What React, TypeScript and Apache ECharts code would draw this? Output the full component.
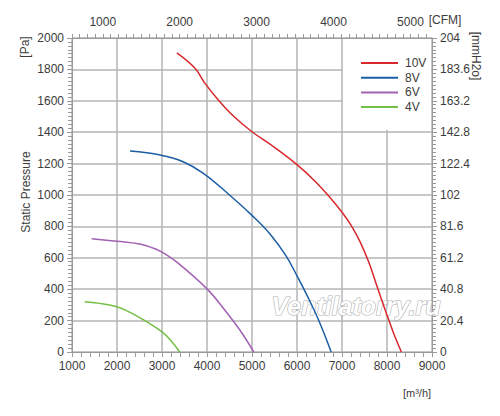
import React, { useEffect, useRef } from "react";
import * as echarts from "echarts";

const xTicksM3h = [1000, 2000, 3000, 4000, 5000, 6000, 7000, 8000, 9000];
const cfmLabels = [1000, 2000, 3000, 4000, 5000];
const paTicks = [0, 200, 400, 600, 800, 1000, 1200, 1400, 1600, 1800, 2000];
const mmTicks = [0, 20.4, 40.8, 61.2, 81.6, 102, 122.4, 142.8, 163.2, 183.6, 204];

const seriesNames = ["10V", "8V", "6V", "4V"];
const seriesColors = ["#d8282d", "#1c5ea6", "#a262b3", "#74bf45"];

const v10: [number, number][] = [
  [3330, 1905], [3733, 1807], [3956, 1711], [4252, 1605], [4585, 1503], [5000, 1403],
  [5500, 1303], [6000, 1193], [6400, 1088], [6700, 995], [7000, 890], [7200, 808],
  [7400, 703], [7600, 568], [7800, 400], [8000, 235], [8160, 110], [8320, 0],
];
const v8: [number, number][] = [
  [2290, 1280], [2960, 1255], [3470, 1212], [3920, 1138], [4500, 1000], [5000, 870],
  [5400, 752], [5750, 615], [6000, 485], [6250, 345], [6500, 190], [6760, 0],
];
const v6: [number, number][] = [
  [1437, 722], [2000, 705], [2500, 688], [2800, 662], [3000, 636], [3330, 572],
  [4000, 402], [4360, 280], [4730, 140], [5040, 0],
];
const v4: [number, number][] = [
  [1280, 320], [1700, 306], [2000, 288], [2300, 251], [2600, 203], [3000, 128],
  [3200, 72], [3395, 0],
];
const seriesData = [v10, v8, v6, v4];

const FONT = "Liberation Sans, Arial, sans-serif";
const AXIS_COLOR = "#9a9a9a";
const GRID_COLOR = "#b5b5b5";
const LABEL_COLOR = "#3c3c3c";

export default function App() {
  const ref = useRef<HTMLDivElement>(null);
  useEffect(() => {
    if (!ref.current) return;
    const chart = echarts.init(ref.current, undefined, { renderer: "svg" });
    const axisCommon = {
      axisLine: { show: true, onZero: false, lineStyle: { color: AXIS_COLOR, width: 1 } },
      axisTick: { show: true, inside: false, length: 5, lineStyle: { color: AXIS_COLOR } },
      axisLabel: {
        color: LABEL_COLOR, fontSize: 12, fontFamily: FONT,
        formatter: (v: number) => String(Math.round(v * 10) / 10),
      },
    };
    chart.setOption({
      animation: false,
      backgroundColor: "#ffffff",
      textStyle: { fontFamily: FONT },
      grid: { left: 72, right: 68, top: 38, bottom: 64, containLabel: false },
      xAxis: [
        {
          type: "value",
          position: "bottom",
          min: xTicksM3h[0],
          max: xTicksM3h[xTicksM3h.length - 1],
          interval: 1000,
          ...axisCommon,
          axisLabel: { ...axisCommon.axisLabel, margin: 8 },
          minorTick: { show: true, splitNumber: 5, length: 5, lineStyle: { color: AXIS_COLOR } },
          splitLine: { show: true, lineStyle: { color: GRID_COLOR, width: 1.5 } },
        },
        {
          type: "value",
          position: "top",
          min: 600,
          max: 5280,
          interval: 100,
          ...axisCommon,
          axisTick: { show: true, inside: false, length: 4, lineStyle: { color: AXIS_COLOR } },
          axisLabel: {
            ...axisCommon.axisLabel,
            margin: 10,
            showMaxLabel: false,
            formatter: (v: number) => {
              const r = Math.round(v);
              return cfmLabels.indexOf(r) >= 0 ? String(r) : "";
            },
          },
          splitLine: { show: false },
        },
      ],
      yAxis: [
        {
          type: "value",
          position: "left",
          min: paTicks[0],
          max: paTicks[paTicks.length - 1],
          interval: 200,
          ...axisCommon,
          axisLabel: { ...axisCommon.axisLabel, margin: 8 },
          minorTick: { show: true, splitNumber: 8, length: 4, lineStyle: { color: AXIS_COLOR } },
          splitLine: { show: true, lineStyle: { color: GRID_COLOR, width: 1.5 } },
        },
        {
          type: "value",
          position: "right",
          min: mmTicks[0],
          max: mmTicks[mmTicks.length - 1],
          interval: 20.4,
          ...axisCommon,
          axisLabel: { ...axisCommon.axisLabel, margin: 8 },
          minorTick: { show: true, splitNumber: 8, length: 4, lineStyle: { color: AXIS_COLOR } },
          splitLine: { show: false },
        },
      ],
      legend: {
        orient: "vertical",
        left: 356,
        top: 52,
        icon: "rect",
        itemWidth: 37,
        itemHeight: 2,
        itemGap: 2.7,
        data: seriesNames,
        textStyle: { color: LABEL_COLOR, fontSize: 12, fontFamily: FONT, padding: [0, 0, 0, 2] },
        z: 10,
      },
      graphic: [
        { type: "rect", shape: { x: 343, y: 39, width: 88, height: 91 }, style: { fill: "#ffffff" }, z: 1, silent: true },
        {
          type: "text", x: 356, y: 306, z: 1, silent: true,
          style: {
            text: "Ventilatorry.ru", fontSize: 25, fontStyle: "italic", fontWeight: "bold",
            fontFamily: FONT, fill: "#ffffff", stroke: "#b0b0b0", lineWidth: 1.2,
            align: "center", verticalAlign: "middle",
          },
        },
        {
          type: "text", x: 25, y: 47, rotation: Math.PI / 2, z: 5,
          style: { text: "[Pa]", fontSize: 12, fontFamily: FONT, fill: LABEL_COLOR, align: "center", verticalAlign: "middle" },
        },
        {
          type: "text", x: 26, y: 192, rotation: Math.PI / 2, z: 5,
          style: { text: "Static Pressure", fontSize: 12, fontFamily: FONT, fill: LABEL_COLOR, align: "center", verticalAlign: "middle" },
        },
        {
          type: "text", x: 476, y: 56, rotation: -Math.PI / 2, z: 5,
          style: { text: "[mmH2o]", fontSize: 12, fontFamily: FONT, fill: LABEL_COLOR, align: "center", verticalAlign: "middle" },
        },
        {
          type: "text", x: 445, y: 20, z: 5,
          style: { text: "[CFM]", fontSize: 12, fontFamily: FONT, fill: LABEL_COLOR, align: "center", verticalAlign: "middle" },
        },
        {
          type: "text", x: 417, y: 393, z: 5,
          style: { text: "[m³/h]", fontSize: 11, fontFamily: FONT, fill: LABEL_COLOR, align: "center", verticalAlign: "middle" },
        },
      ],
      series: seriesNames.map((name, i) => ({
        name,
        type: "line",
        xAxisIndex: 0,
        yAxisIndex: 0,
        data: seriesData[i],
        smooth: 0.4,
        symbol: "none",
        z: 3,
        lineStyle: { color: seriesColors[i], width: 1.5 },
        itemStyle: { color: seriesColors[i] },
      })),
    });
    return () => chart.dispose();
  }, []);
  return <div ref={ref} style={{ width: 500, height: 416, position: "absolute", left: 0, top: 0 }} />;
}
